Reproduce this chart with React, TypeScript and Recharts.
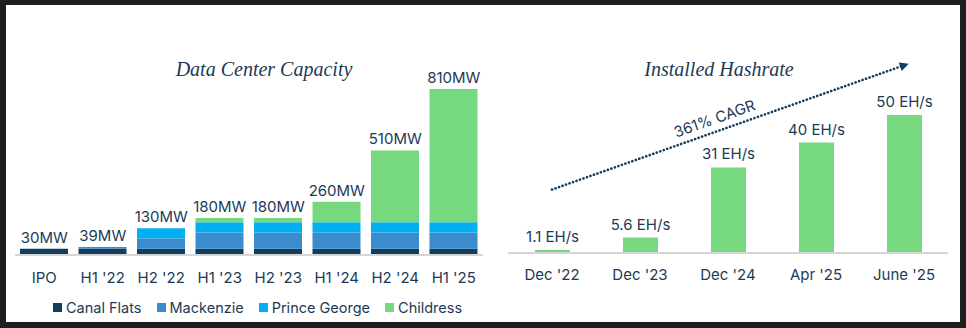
import React from 'react';
import { ComposedChart, BarChart, Bar, Line, XAxis, YAxis, LabelList, Legend, ReferenceLine } from 'recharts';

// ---- Data Center Capacity (MW) ----
const capacityPeriods = ["IPO", "H1 '22", "H2 '22", "H1 '23", "H2 '23", "H1 '24", "H2 '24", "H1 '25"];
const canalFlats = [30, 30, 30, 30, 30, 30, 30, 30];
const mackenzie = [0, 9, 50, 80, 80, 80, 80, 80];
const princeGeorge = [0, 0, 50, 50, 50, 50, 50, 50];
const childress = [0, 0, 0, 20, 20, 100, 350, 650];
const capacityTotals = [30, 39, 130, 180, 180, 260, 510, 810];
const capacityLabels = ["30MW", "39MW", "130MW", "180MW", "180MW", "260MW", "510MW", "810MW"];
const siteNames = ["Canal Flats", "Mackenzie", "Prince George", "Childress"];

// ---- Installed Hashrate (EH/s) ----
const hashPeriods = ["Dec '22", "Dec '23", "Dec '24", "Apr '25", "June '25"];
const hashrate = [1.1, 5.6, 31, 40, 50];
const hashLabels = ["1.1 EH/s", "5.6 EH/s", "31 EH/s", "40 EH/s", "50 EH/s"];
const cagrText = "361% CAGR";
const trendFrom = 23;
const trendTo = 68;

const NAVY = '#1c3a56';
const C_CANAL = '#123d5c';
const C_MACK = '#3a8ccc';
const C_PG = '#00b0f0';
const C_CHILD = '#76d97f';
const SANS = 'Inter, "Noto Sans", sans-serif';

const capacityData = capacityPeriods.map((p, i) => ({
  period: p,
  canal: canalFlats[i],
  mack: mackenzie[i],
  pg: princeGeorge[i],
  child: childress[i],
  total: capacityTotals[i],
  label: capacityLabels[i],
}));

const hashData = hashPeriods.map((p, i) => ({ period: p, value: hashrate[i], label: hashLabels[i] }));

const LegendContent = (props: any) => {
  const items = (props.payload || [])
    .filter((e: any) => siteNames.indexOf(e.value) >= 0)
    .sort((a: any, b: any) => siteNames.indexOf(a.value) - siteNames.indexOf(b.value));
  return (
    <div style={{ display: 'flex', alignItems: 'center', fontFamily: SANS, fontSize: 14.5, color: NAVY, whiteSpace: 'nowrap', fontWeight: 400 }}>
      {items.map((e: any) => (
        <div key={e.value} style={{ display: 'flex', alignItems: 'center', marginRight: 15 }}>
          <span style={{ display: 'inline-block', width: 9, height: 9, background: e.color, marginRight: 4 }} />
          <span>{e.value}</span>
        </div>
      ))}
    </div>
  );
};

const TopText = (props: any) => {
  const { x, y, width, value, offset } = props;
  const cx = x + width / 2;
  return (
    <text x={cx} y={y - (offset || 0)} textAnchor="middle" fill={NAVY} fontSize={15} fontFamily={SANS}>
      {value}
    </text>
  );
};

const TrendLabel = (props: any) => {
  const vb = props.viewBox || {};
  let x1: number, y1: number, x2: number, y2: number;
  if (vb.x1 !== undefined) {
    x1 = vb.x1; y1 = vb.y1; x2 = vb.x2; y2 = vb.y2;
  } else {
    x1 = vb.x; y1 = vb.y + vb.height; x2 = vb.x + vb.width; y2 = vb.y;
  }
  const dx = x2 - x1, dy = y2 - y1;
  const len = Math.sqrt(dx * dx + dy * dy) || 1;
  const ux = dx / len, uy = dy / len;
  const nx = uy, ny = -ux;
  const tipX = x2 + ux * 5, tipY = y2 + uy * 5;
  const bX = x2 - ux * 4, bY = y2 - uy * 4;
  const head = `${tipX},${tipY} ${bX + nx * 4.5},${bY + ny * 4.5} ${bX - nx * 4.5},${bY - ny * 4.5}`;
  const t = 0.474;
  const cx = x1 + dx * t + nx * 13;
  const cy = y1 + dy * t + ny * 13;
  const ang = (Math.atan2(dy, dx) * 180) / Math.PI;
  return (
    <g>
      <polygon points={head} fill={C_CANAL} />
      <text x={cx} y={cy} textAnchor="middle" dominantBaseline="central" fill={NAVY}
        fontFamily={SANS} fontSize={15} transform={`rotate(${ang} ${cx} ${cy})`}>{cagrText}</text>
    </g>
  );
};

const titleStyle: React.CSSProperties = {
  position: 'absolute', fontFamily: '"Liberation Serif", "DejaVu Serif", serif', fontStyle: 'italic',
  fontSize: 20, color: NAVY, whiteSpace: 'nowrap', transform: 'translate(-50%, -50%)', lineHeight: 1,
};

export default function App() {
  return (
    <div style={{ position: 'absolute', left: 0, top: 0, width: 966, height: 328, background: '#1e1e1e', overflow: 'hidden' }}>
      <div style={{ position: 'absolute', left: 6, top: 5, width: 954, height: 317, background: '#ffffff' }} />
      <div style={{ ...titleStyle, left: 264, top: 69 }}>Data Center Capacity</div>
      <div style={{ ...titleStyle, left: 719, top: 69 }}>Installed Hashrate</div>

      <div style={{ position: 'absolute', left: 0, top: 0 }}>
        <ComposedChart width={490} height={328} data={capacityData}
          margin={{ top: 89, right: 7, bottom: 25, left: 15 }}>
          <XAxis dataKey="period" tickLine={false} axisLine={{ stroke: '#d6d6d6', strokeWidth: 2 }}
            tick={{ fill: NAVY, fontSize: 15, fontFamily: SANS }} tickMargin={11} interval={0} height={30} />
          <YAxis hide domain={[0, 810]} />
          <Bar dataKey="canal" name="Canal Flats" stackId="s" fill={C_CANAL} barSize={48} isAnimationActive={false} />
          <Bar dataKey="mack" name="Mackenzie" stackId="s" fill={C_MACK} barSize={48} isAnimationActive={false} />
          <Bar dataKey="pg" name="Prince George" stackId="s" fill={C_PG} barSize={48} isAnimationActive={false} />
          <Bar dataKey="child" name="Childress" stackId="s" fill={C_CHILD} barSize={48} isAnimationActive={false} />
          <Line dataKey="total" stroke="none" dot={false} activeDot={false} legendType="none" isAnimationActive={false}>
            <LabelList dataKey="label" position="top" offset={6} fill={NAVY} fontSize={15} fontFamily={SANS} />
          </Line>
          <Legend content={<LegendContent />} wrapperStyle={{ left: 53, top: 299, width: 'auto', height: 18 }} />
        </ComposedChart>
      </div>

      <div style={{ position: 'absolute', left: 480, top: 0 }}>
        <BarChart width={486} height={328} data={hashData}
          margin={{ top: 115, right: 18, bottom: 45, left: 28 }}>
          <XAxis dataKey="period" tickLine={false} axisLine={{ stroke: '#d6d6d6', strokeWidth: 2 }}
            tick={{ fill: NAVY, fontSize: 15, fontFamily: SANS }} tickMargin={10} interval={0} height={30} />
          <YAxis hide domain={[0, 50]} />
          <ReferenceLine ifOverflow="visible"
            segment={[{ x: hashPeriods[0], y: trendFrom }, { x: hashPeriods[hashPeriods.length - 1], y: trendTo }]}
            stroke={C_CANAL} strokeWidth={2.6} strokeDasharray="0.1 3.6" strokeLinecap="round"
            label={<TrendLabel />} />
          <Bar dataKey="value" fill={C_CHILD} barSize={35} isAnimationActive={false}>
            <LabelList dataKey="label" offset={8} content={<TopText />} />
          </Bar>
        </BarChart>
      </div>
    </div>
  );
}
